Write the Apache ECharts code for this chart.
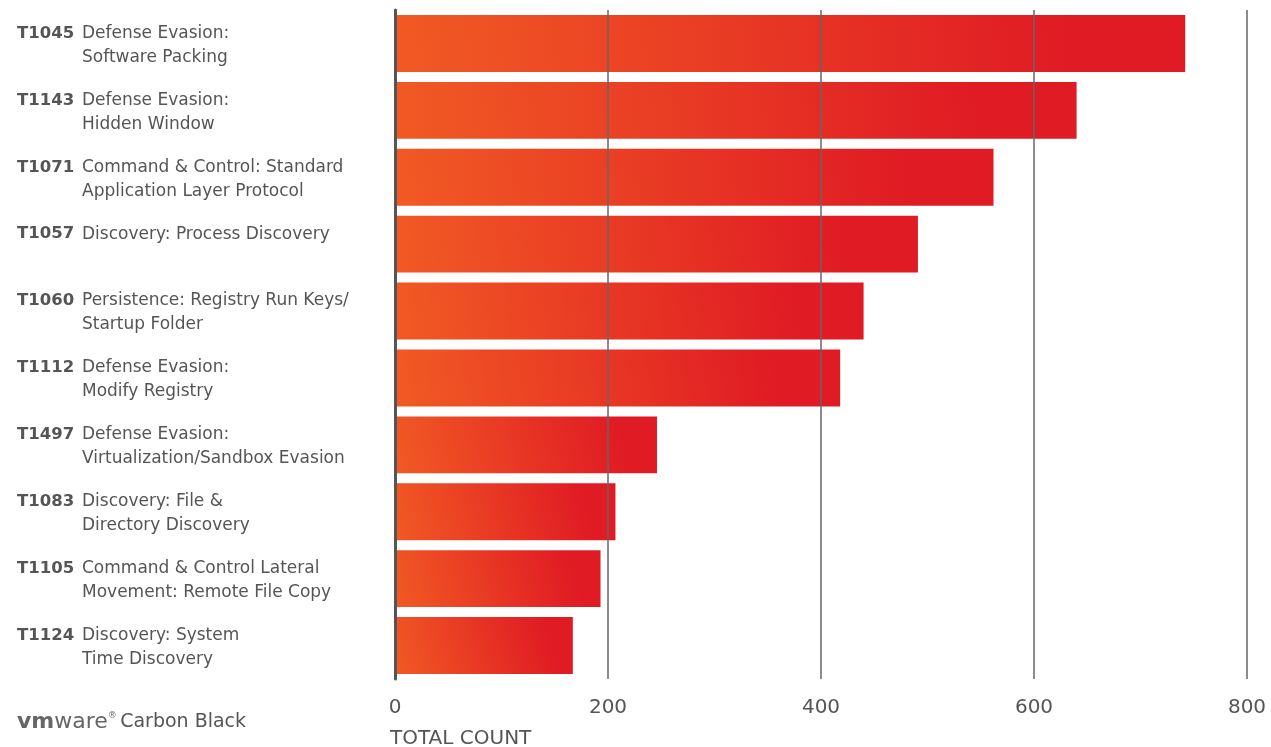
<!DOCTYPE html>
<html><head><meta charset="utf-8">
<script src="https://cdn.jsdelivr.net/npm/echarts@6/dist/echarts.min.js"></script>
<style>html,body{margin:0;padding:0;background:#fff}#c{width:1271px;height:747px}</style>
</head><body><div id="c"></div>
<script>
const codes = ['T1045','T1143','T1071','T1057','T1060','T1112','T1497','T1083','T1105','T1124'];
const line1 = ['Defense Evasion:','Defense Evasion:','Command & Control: Standard','Discovery: Process Discovery','Persistence: Registry Run Keys/','Defense Evasion:','Defense Evasion:','Discovery: File &','Command & Control Lateral','Discovery: System'];
const line2 = ['Software Packing','Hidden Window','Application Layer Protocol','','Startup Folder','Modify Registry','Virtualization/Sandbox Evasion','Directory Discovery','Movement: Remote File Copy','Time Discovery'];
const values = [742, 640, 562, 491, 440, 418, 246, 207, 193, 167];
const xTicks = [0, 200, 400, 600, 800];

const FONT = 'DejaVu Sans';
const chart = echarts.init(document.getElementById('c'));
const grad = new echarts.graphic.LinearGradient(0, 1, 1, 0, [
  {offset: 0, color: '#F15A24'},
  {offset: 0.85, color: '#E01B24'},
  {offset: 1, color: '#E01B24'}
]);
chart.setOption({
  animation: false,
  grid: {left: 395, top: 10, width: 852, height: 669, containLabel: false},
  xAxis: {
    type: 'value', min: xTicks[0], max: xTicks[xTicks.length-1], interval: 200, z: 3,
    axisLine: {show: false}, axisTick: {show: false},
    splitLine: {show: true, lineStyle: {color: '#666', width: 1.5}},
    axisLabel: {color: '#555', fontSize: 20, fontFamily: FONT, margin: 19}
  },
  yAxis: {
    type: 'category', inverse: true, data: codes, z: 3,
    axisLine: {show: true, lineStyle: {color: '#555', width: 3}},
    axisTick: {show: false},
    axisLabel: {
      align: 'left', margin: 378, verticalAlign: 'middle', padding: [4, 0, 0, 0],
      formatter: (v, i) => '{c|' + v + '}{d|' + line1[i] + '}\n{s| }{d|' + (line2[i] || ' ') + '}',
      rich: {
        c: {fontFamily: FONT, fontWeight: 'bold', fontSize: 16.5, color: '#555', width: 65, lineHeight: 24},
        s: {fontSize: 16, width: 65, lineHeight: 24},
        d: {fontFamily: FONT, fontSize: 17, color: '#555', lineHeight: 24}
      }
    }
  },
  series: [{
    type: 'bar', data: values, barCategoryGap: '15%',
    itemStyle: {color: grad}
  }],
  graphic: [
    {type: 'text', left: 390, top: 729, style: {text: 'TOTAL COUNT', fill: '#555', font: '20px "' + FONT + '"'}},
    {type: 'text', left: 17, top: 711, style: {
      text: '{b|vm}{l|ware}{r|®} {t|Carbon Black}',
      rich: {
        b: {fontFamily: FONT, fontWeight: 'bold', fontSize: 22, fill: '#666'},
        l: {fontFamily: FONT, fontSize: 22, fill: '#666'},
        r: {fontFamily: FONT, fontSize: 9, fill: '#666', verticalAlign: 'top'},
        t: {fontFamily: FONT, fontSize: 19, fill: '#555'}
      }
    }}
  ]
});
</script></body></html>
